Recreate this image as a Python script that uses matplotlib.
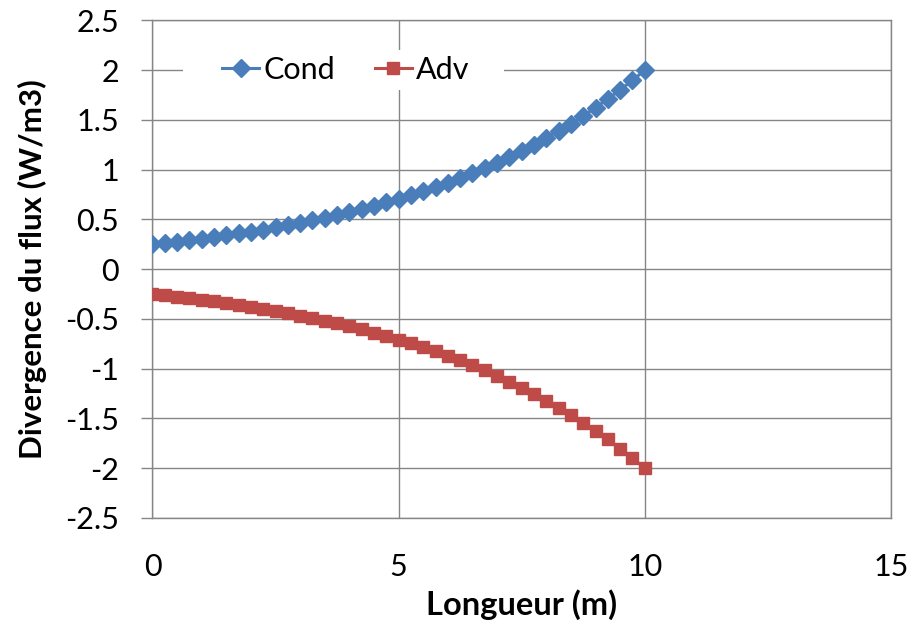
import matplotlib
matplotlib.use("Agg")
import matplotlib.pyplot as plt
from matplotlib.patches import Rectangle

# donnees (pas de 0.25 m)
longueur = [0.0, 0.25, 0.5, 0.75, 1.0, 1.25, 1.5, 1.75, 2.0, 2.25,
            2.5, 2.75, 3.0, 3.25, 3.5, 3.75, 4.0, 4.25, 4.5, 4.75,
            5.0, 5.25, 5.5, 5.75, 6.0, 6.25, 6.5, 6.75, 7.0, 7.25,
            7.5, 7.75, 8.0, 8.25, 8.5, 8.75, 9.0, 9.25, 9.5, 9.75, 10.0]
cond = [0.250, 0.263, 0.277, 0.292, 0.308, 0.324, 0.342, 0.360, 0.379, 0.399,
        0.420, 0.443, 0.467, 0.491, 0.518, 0.545, 0.574, 0.605, 0.637, 0.671,
        0.707, 0.745, 0.785, 0.826, 0.871, 0.917, 0.966, 1.017, 1.072, 1.129,
        1.189, 1.253, 1.320, 1.390, 1.464, 1.542, 1.625, 1.711, 1.803, 1.899, 2.000]
adv = [-0.250, -0.263, -0.277, -0.292, -0.308, -0.324, -0.342, -0.360, -0.379, -0.399,
       -0.420, -0.443, -0.467, -0.491, -0.518, -0.545, -0.574, -0.605, -0.637, -0.671,
       -0.707, -0.745, -0.785, -0.826, -0.871, -0.917, -0.966, -1.017, -1.072, -1.129,
       -1.189, -1.253, -1.320, -1.390, -1.464, -1.542, -1.625, -1.711, -1.803, -1.899, -2.000]
xticks = [0, 5, 10, 15]
yticks = [-2.5, -2, -1.5, -1, -0.5, 0, 0.5, 1, 1.5, 2, 2.5]
ylabels = ["-2.5", "-2", "-1.5", "-1", "-0.5", "0", "0.5", "1", "1.5", "2", "2.5"]

plt.rcParams['font.family'] = ['Lato', 'DejaVu Sans']
gris = "#868686"

fig = plt.figure(figsize=(9.14, 6.28), dpi=100)
ax = fig.add_axes([0.1668, 0.1752, 0.808, 0.7922])

ax.plot(longueur, cond, color="#4A7EBB", lw=2.2, marker="D", markersize=9,
        label="Cond", zorder=3)
ax.plot(longueur, adv, color="#BE4B48", lw=2.2, marker="s", markersize=8.5,
        label="Adv", zorder=3)

ax.set_xlim(0, 15)
ax.set_ylim(-2.5, 2.5)
ax.set_xticks(xticks)
ax.set_xticklabels([str(t) for t in xticks])
ax.set_yticks(yticks)
ax.set_yticklabels(ylabels)
ax.grid(True, color=gris, lw=1.0)
ax.set_axisbelow(True)
for s in ax.spines.values():
    s.set_color(gris)
    s.set_linewidth(1.0)

ax.tick_params(axis="y", length=8, color=gris, width=1.0, pad=16, labelsize=22)
ax.tick_params(axis="x", length=0, pad=25, labelsize=22)

ax.set_xlabel("Longueur (m)", fontsize=23.5, fontweight="bold", labelpad=6)
ax.set_ylabel("Divergence du flux (W/m3)", fontsize=22.5, fontweight="bold", labelpad=13)

# fond blanc de la legende (cache la grille)
ax.add_patch(Rectangle((0.62, 1.8), 6.52, 0.4, facecolor="white",
                       edgecolor="none", zorder=2))
leg = ax.legend(loc="center", bbox_to_anchor=(0.262, 0.9005), ncol=2, fontsize=22,
                frameon=False, handlelength=1.2, handletextpad=0.15,
                columnspacing=1.3)

fig.savefig("out.png", dpi=100)
